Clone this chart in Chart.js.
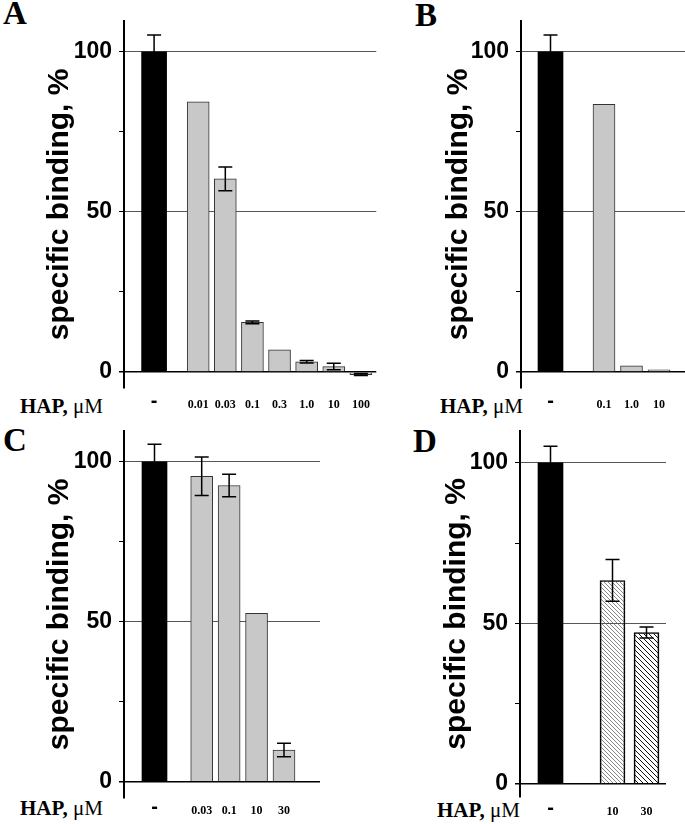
<!DOCTYPE html>
<html>
<head>
<meta charset="utf-8">
<script src="https://cdn.jsdelivr.net/npm/chart.js@4.4.0/dist/chart.umd.min.js"></script>
<style>
  html, body { margin: 0; padding: 0; background: #fff; }
  #page { position: relative; width: 685px; height: 824px; overflow: hidden; }
  canvas.panel { position: absolute; }
  .letter { position: absolute; font: bold 33px "Liberation Serif", "Times New Roman", serif; line-height: 1; }
  .hap { position: absolute; font: 21px "Liberation Serif", "Times New Roman", serif; line-height: 1; white-space: nowrap; }
</style>
</head>
<body>
<div id="page">
  <div class="letter" style="left:3px;top:-3px">A</div>
  <div class="letter" style="left:415px;top:-1px">B</div>
  <div class="letter" style="left:3px;top:424px">C</div>
  <div class="letter" style="left:413px;top:425px">D</div>
  <div class="hap" style="left:20px;top:396px"><b>HAP,</b> μM</div>
  <div class="hap" style="left:440px;top:396px"><b>HAP,</b> μM</div>
  <div class="hap" style="left:20px;top:798px"><b>HAP,</b> μM</div>
  <div class="hap" style="left:437px;top:800px"><b>HAP,</b> μM</div>
</div>
<script>
// ---------- DATA (first entry of each panel = control "-") ----------
const catsA = ["-", "0.01", "0.03", "0.1", "0.3", "1.0", "10", "100"];
const valsA = [100, 84.4, 60.3, 15.5, 6.9, 3.2, 1.7, -0.8];
const errsA = [5.3, 0, 3.7, 0.4, 0, 0.4, 1.0, 0.3];

const catsB = ["-", "0.1", "1.0", "10"];
const valsB = [100, 83.6, 1.9, 0.7];
const errsB = [5.3, 0, 0, 0];

const catsC = ["-", "0.03", "0.1", "10", "30"];
const valsC = [100, 95.5, 92.6, 52.6, 9.9];
const errsC = [5.5, 6.0, 3.5, 0, 2.1];

const catsD = ["-", "10", "30"];
const valsD = [100, 63.4, 47.2];
const errsD = [5.2, 6.5, 1.7];

const yTicks = [0, 25, 50, 75, 100];
const yLabelled = [0, 50, 100];
const yTitle = "specific binding, %";

// ---------- LAYOUT (page pixels) ----------
const PANELS = [
  { cats: catsA, vals: valsA, errs: errsA, left: 0, top: 0, w: 380, h: 420, yW: 124, padTop: 20, padRight: 2,
    xH: 32, xPad: 10, titlePad: 42, yMin: -5, yMax: 109.7, ctrlPx: 154.3, firstPx: 198.7, stepPx: 27.3, barW: 22, hatch: false },
  { cats: catsB, vals: valsB, errs: errsB, left: 400, top: 0, w: 285, h: 420, yW: 121, padTop: 20, padRight: 0,
    xH: 32, xPad: 10, titlePad: 41, yMin: -5, yMax: 109.7, ctrlPx: 550.5, firstPx: 604, stepPx: 27.5, barW: 22, hatch: false },
  { cats: catsC, vals: valsC, errs: errsC, left: 0, top: 410, w: 330, h: 414, yW: 124, padTop: 20, padRight: 10,
    xH: 26, xPad: 6, titlePad: 42, yMin: -5.1, yMax: 109.7, ctrlPx: 154.5, firstPx: 201.7, stepPx: 27.43, barW: 22, hatch: false },
  { cats: catsD, vals: valsD, errs: errsD, left: 400, top: 410, w: 285, h: 414, yW: 120, padTop: 13, padRight: 19,
    xH: 27, xPad: 8, titlePad: 39, yMin: -4, yMax: 110, ctrlPx: 550.5, firstPx: 612.5, stepPx: 34, barW: 25, hatch: true },
];

const SANS = "'Liberation Sans', Arial, sans-serif";
const SERIF = "'Liberation Serif', 'Times New Roman', serif";

// ---------- HATCH PATTERNS ----------
function hatch(size, color, lw) {
  const c = document.createElement("canvas");
  c.width = c.height = size;
  const g = c.getContext("2d");
  g.strokeStyle = color;
  g.lineWidth = lw;
  g.beginPath();
  for (let k = -1; k <= 1; k++) {
    g.moveTo(-1, -1 + k * size);
    g.lineTo(size + 1, size + 1 + k * size);
  }
  g.stroke();
  return g.createPattern(c, "repeat");
}

// ---------- ERROR BARS ----------
const errorBars = {
  id: "errorBars",
  afterDatasetsDraw(chart) {
    const ctx = chart.ctx;
    const y = chart.scales.y;
    chart.data.datasets.forEach((ds, di) => {
      chart.getDatasetMeta(di).data.forEach((bar, i) => {
        const e = ds.errors[i];
        if (!e) return;
        const v = ds.data[i].y;
        const t = y.getPixelForValue(v + e);
        const b = y.getPixelForValue(v - e);
        ctx.save();
        ctx.strokeStyle = "#000";
        ctx.lineWidth = 1.5;
        ctx.beginPath();
        ctx.moveTo(bar.x, t); ctx.lineTo(bar.x, b);
        ctx.moveTo(bar.x - 7, t); ctx.lineTo(bar.x + 7, t);
        ctx.moveTo(bar.x - 7, b); ctx.lineTo(bar.x + 7, b);
        ctx.stroke();
        ctx.restore();
      });
    });
  },
};

function buildPanel(p) {
  const canvas = document.createElement("canvas");
  canvas.className = "panel";
  canvas.width = p.w;
  canvas.height = p.h;
  Object.assign(canvas.style, { left: p.left + "px", top: p.top + "px", width: p.w + "px", height: p.h + "px" });
  document.getElementById("page").appendChild(canvas);

  // x positions in "slot" units: HAP bars at 0,1,2..., control offset to the left
  const pos = p.cats.map((c, i) => (i === 0 ? (p.ctrlPx - p.firstPx) / p.stepPx : i - 1));
  const xMin = (p.left + p.yW - p.firstPx) / p.stepPx;
  const xMax = (p.left + p.w - p.padRight - p.firstPx) / p.stepPx;
  const pts = p.vals.map((v, i) => ({ x: pos[i], y: v }));

  const hapFill = p.hatch ? [hatch(4, "#666", 0.8), hatch(5, "#111", 1)] : "#c8c8c8";

  new Chart(canvas, {
    type: "bar",
    data: {
      datasets: [
        { data: [pts[0]], errors: [p.errs[0]], backgroundColor: "#000", borderWidth: 0, barThickness: 25, grouped: false },
        { data: pts.slice(1), errors: p.errs.slice(1), backgroundColor: hapFill,
          borderColor: p.hatch ? "#000" : "#333", borderWidth: 1, barThickness: p.barW, grouped: false },
      ],
    },
    options: {
      responsive: false,
      animation: false,
      events: [],
      layout: { padding: { top: p.padTop, right: p.padRight, left: 0, bottom: 0 } },
      plugins: { legend: { display: false }, tooltip: { enabled: false } },
      scales: {
        x: {
          type: "linear",
          min: xMin,
          max: xMax,
          offset: false,
          grid: { display: false, drawTicks: false, offset: false },
          border: { display: false },
          afterBuildTicks: (s) => { s.ticks = pos.map((v) => ({ value: v })); },
          afterFit: (s) => { s.height = p.xH; },
          ticks: {
            autoSkip: false,
            maxRotation: 0,
            minRotation: 0,
            padding: p.xPad,
            color: "#000",
            callback: (v, i) => p.cats[i],
            font: (ctx) => ctx.index === 0
              ? { family: SANS, size: 20, weight: "bold", lineHeight: "7px" }
              : { family: SERIF, size: 12, weight: "bold" },
          },
        },
        y: {
          min: p.yMin,
          max: p.yMax,
          afterBuildTicks: (s) => { s.ticks = yTicks.map((v) => ({ value: v })); },
          afterFit: (s) => { s.width = p.yW; },
          border: { display: true, color: "#000", width: 2 },
          grid: {
            drawTicks: true,
            tickLength: 5,
            tickColor: "#000",
            color: (ctx) => ctx.tick.value === 0 ? "#000" : (yLabelled.includes(ctx.tick.value) ? "#555" : "rgba(0,0,0,0)"),
            lineWidth: (ctx) => (ctx.tick.value === 0 ? 1.5 : 1),
          },
          ticks: {
            padding: 7,
            color: "#000",
            font: { family: SANS, size: 23, weight: "bold" },
            callback: (v) => (yLabelled.includes(v) ? String(v) : ""),
          },
          title: {
            display: true,
            text: yTitle,
            color: "#000",
            font: { family: SANS, size: 30, weight: "bold" },
            padding: { top: p.titlePad, bottom: 0 },
          },
        },
      },
    },
    plugins: [errorBars],
  });
}

PANELS.forEach(buildPanel);
</script>
</body>
</html>
